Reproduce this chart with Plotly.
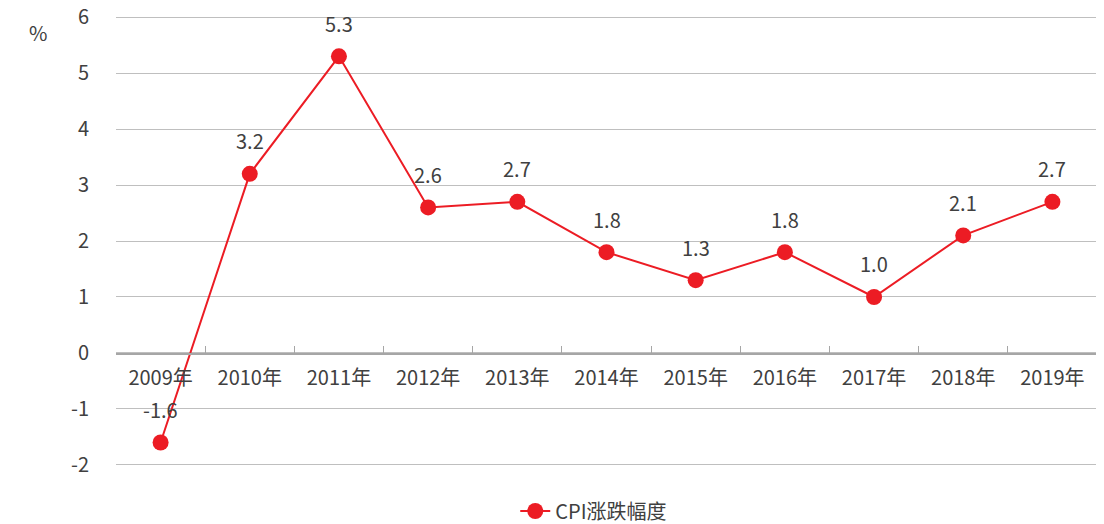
import plotly.graph_objects as go

years = ["2009年", "2010年", "2011年", "2012年", "2013年", "2014年",
         "2015年", "2016年", "2017年", "2018年", "2019年"]
cpi = [-1.6, 3.2, 5.3, 2.6, 2.7, 1.8, 1.3, 1.8, 1.0, 2.1, 2.7]
labels = [f"{v:.1f}" for v in cpi]
series_name = "CPI涨跌幅度"
y_ticks = [-2, -1, 0, 1, 2, 3, 4, 5, 6]
y_ticktext = [str(v) for v in y_ticks]

FONT = "Noto Sans CJK SC"
TXT = "#404040"
RED = "#EC1C24"

fig = go.Figure()
fig.add_trace(go.Scatter(
    x=years, y=cpi, mode="lines+markers", name=series_name,
    line=dict(color=RED, width=2),
    marker=dict(color=RED, size=16),
    showlegend=True, cliponaxis=False,
))

annotations = [dict(text=t, x=x, y=y, xref="x", yref="y", yshift=33,
                    xanchor="center", yanchor="middle", showarrow=False,
                    font=dict(family=FONT, size=20, color=TXT))
               for x, y, t in zip(years, cpi, labels)]
annotations.append(dict(text="%", xref="paper", yref="paper", x=-0.08, y=0.963,
                        xanchor="center", yanchor="middle", showarrow=False,
                        font=dict(family=FONT, size=20, color=TXT)))

fig.update_layout(
    width=1104, height=524,
    margin=dict(l=108, r=15, t=8, b=66, autoexpand=False),
    plot_bgcolor="white", paper_bgcolor="white",
    font=dict(family=FONT, size=20, color=TXT),
    showlegend=True,
    legend=dict(orientation="h", x=0.487, xanchor="center", y=-0.1, yanchor="middle",
                font=dict(family=FONT, size=20, color=TXT)),
    xaxis=dict(
        type="category", range=[-0.5, 10.5], tickson="boundaries",
        showgrid=False, showline=True, linecolor="#A6A6A6", linewidth=2,
        ticks="inside", ticklen=7, tickcolor="#A6A6A6", tickwidth=1,
        anchor="free", position=0.25, ticklabelstandoff=6,
        tickfont=dict(family=FONT, size=20, color=TXT),
    ),
    yaxis=dict(
        range=[-2.02, 6.02], tickvals=y_ticks, ticktext=y_ticktext,
        showgrid=True, gridcolor="#BFBFBF", gridwidth=1.3,
        zeroline=False, showline=False, ticks="", ticklabelstandoff=26,
        ticklabeloverflow="allow",
        tickfont=dict(family=FONT, size=20, color=TXT),
    ),
    annotations=annotations,
)

fig.write_html("out.html")
